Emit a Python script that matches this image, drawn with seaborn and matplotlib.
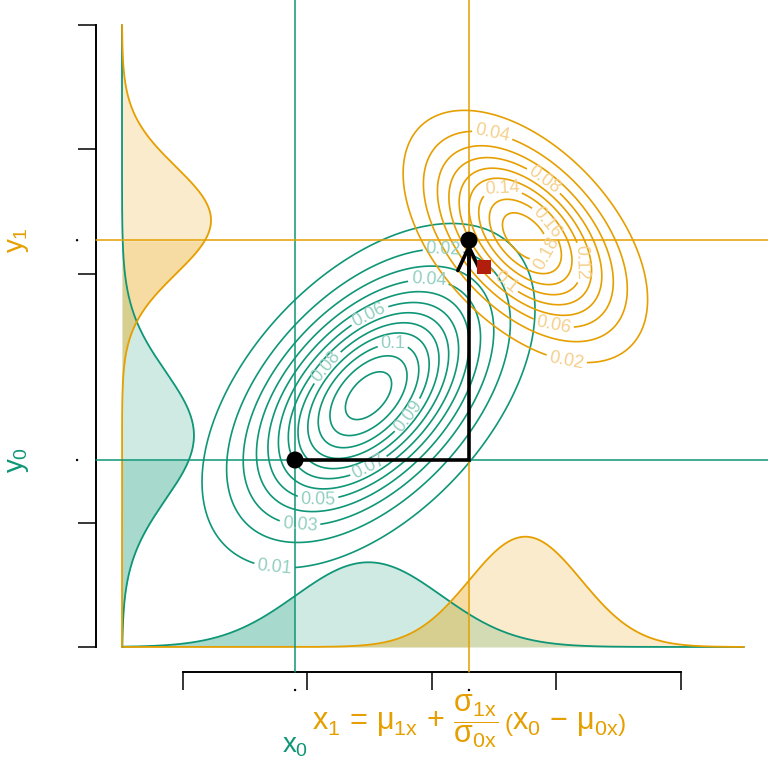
import numpy as np
import matplotlib
matplotlib.use("Agg")
import matplotlib.pyplot as plt
import seaborn as sns

# colours
teal = "#0f9677"
orange = "#e69f00"
teal_lab = "#93cfc1"
orange_lab = "#f4d08c"
red = "#b31d0c"

# joint distributions (mean x, mean y, sd x, sd y, correlation, peak density)
teal_mean = [1.49, 2.02]
teal_sd = [0.594, 0.615]
teal_rho = 0.5
teal_peak = 0.126
orange_mean = [2.75, 3.30]
orange_sd = [0.46, 0.475]
orange_rho = -0.5
orange_peak = 0.195

teal_levels = [0.01, 0.02, 0.03, 0.04, 0.05, 0.06, 0.07, 0.08, 0.09, 0.10, 0.11, 0.12]
orange_levels = [0.02, 0.04, 0.06, 0.08, 0.10, 0.12, 0.14, 0.16, 0.18]

# marginals: bottom (x) and left (y); index 0 = teal, 1 = orange
marg_x_mean = [1.49, 2.75]
marg_x_sd = [0.586, 0.45]
marg_y_mean = [1.70, 3.43]
marg_y_sd = [0.514, 0.43]
marg_y_peak = [0.578, 0.715]

# points
x0, y0 = 0.90, 1.503
x1, y1 = 2.297, 3.27
red_pt = (2.418, 3.055)

x_ticks = [0, 1, 2, 3, 4]
y_ticks = [0, 1, 3, 4, 5]

sns.set_theme(style="white")
plt.rcParams["font.family"] = ["Liberation Sans", "DejaVu Sans"]
plt.rcParams["mathtext.fontset"] = "custom"
plt.rcParams["mathtext.rm"] = "Liberation Sans"
plt.rcParams["mathtext.it"] = "Liberation Sans"
plt.rcParams["mathtext.sf"] = "Liberation Sans"


def bvn(X, Y, mean, sd, rho, peak):
    zx = (X - mean[0]) / sd[0]
    zy = (Y - mean[1]) / sd[1]
    q = (zx ** 2 - 2 * rho * zx * zy + zy ** 2) / (1 - rho ** 2)
    return peak * np.exp(-0.5 * q)


def npdf(v, m, s):
    return np.exp(-0.5 * ((v - m) / s) ** 2) / (s * np.sqrt(2 * np.pi))


fig = plt.figure(figsize=(7.68, 7.68), dpi=100)
ax = fig.add_axes([0, 0, 1, 1])
ax.set_xlim(-1.470, 4.699)
ax.set_ylim(-0.973, 5.201)

base_x = -0.49
xg = np.linspace(base_x, 4.506, 600)
yg = np.linspace(0, 5, 600)
cols = [teal, orange]
cut_x = [x0, x1]
cut_y = [y0, y1]

# bottom marginals
for i in range(2):
    d = npdf(xg, marg_x_mean[i], marg_x_sd[i])
    ax.fill_between(xg, 0, d, color=cols[i], alpha=0.2, lw=0, zorder=1)
    m = xg <= cut_x[i]
    ax.fill_between(xg[m], 0, d[m], color=cols[i], alpha=0.2, lw=0, zorder=1)
    sns.lineplot(x=xg, y=d, color=cols[i], lw=1.3, estimator=None, ax=ax, zorder=2)

# left marginals
for i in range(2):
    d = marg_y_peak[i] * np.exp(-0.5 * ((yg - marg_y_mean[i]) / marg_y_sd[i]) ** 2)
    ax.fill_betweenx(yg, base_x, base_x + d, color=cols[i], alpha=0.2, lw=0, zorder=1)
    m = yg <= cut_y[i]
    ax.fill_betweenx(yg[m], base_x, base_x + d[m], color=cols[i], alpha=0.2, lw=0, zorder=1)
    sns.lineplot(x=base_x + d, y=yg, color=cols[i], lw=1.3, estimator=None,
                 sort=False, orient="y", ax=ax, zorder=2)

# joint contours
gx = np.linspace(-0.5, 4.5, 400)
gy = np.linspace(0, 5.1, 400)
GX, GY = np.meshgrid(gx, gy)
Zt = bvn(GX, GY, teal_mean, teal_sd, teal_rho, teal_peak)
Zo = bvn(GX, GY, orange_mean, orange_sd, orange_rho, orange_peak)

teal_lab_pos = {0.01: (0.739, 0.683), 0.02: (2.088, 3.127), 0.03: (0.94, 1.005),
                0.04: (1.968, 2.870), 0.05: (1.084, 1.238), 0.06: (1.518, 2.629),
                0.07: (1.486, 1.463), 0.08: (1.181, 2.227), 0.09: (1.823, 1.849),
                0.10: (1.687, 2.363)}
orange_lab_pos = {0.02: (3.084, 2.323), 0.04: (2.466, 4.035), 0.06: (2.972, 2.572),
                  0.08: (2.884, 3.730), 0.10: (2.522, 2.846), 0.12: (3.149, 3.087),
                  0.14: (2.562, 3.529), 0.16: (2.860, 3.360), 0.18: (2.880, 3.180)}


def draw_level(Z, lev, col, lab_col, pos):
    cs = ax.contour(GX, GY, Z, levels=[lev], colors=col, linewidths=1.2, zorder=2)
    if pos is not None:
        ax.clabel(cs, manual=[pos], fmt=lambda v: f"{v:g}", fontsize=13,
                  colors=lab_col, inline=True, inline_spacing=3)


for lev in teal_levels:
    draw_level(Zt, lev, teal, teal_lab, teal_lab_pos.get(lev))
for lev in orange_levels:
    draw_level(Zo, lev, orange, orange_lab, orange_lab_pos.get(lev))

# guide lines
ax.plot([x0, x0], [-0.2, 5.201], color=teal, lw=1.1, zorder=3, clip_on=False)
ax.plot([x1, x1], [-0.2, 5.201], color=orange, lw=1.1, zorder=3, clip_on=False)
ax.plot([-0.7, 4.699], [y0, y0], color=teal, lw=1.1, zorder=3, clip_on=False)
ax.plot([-0.7, 4.699], [y1, y1], color=orange, lw=1.1, zorder=3, clip_on=False)

# path x0 -> x1 -> y1
ax.plot([x0, x1, x1], [y0, y0, y1 - 0.05], color="black", lw=2.6,
        solid_joinstyle="miter", zorder=4)
ax.annotate("", xy=(x1, y1 - 0.02), xytext=(x1, y1 - 0.4),
            arrowprops=dict(arrowstyle="->,head_length=0.85,head_width=0.4",
                            mutation_scale=20, lw=2.6, color="black",
                            shrinkA=0, shrinkB=0), zorder=4)
sns.scatterplot(x=[x0, x1], y=[y0, y1], color="black", s=150, edgecolor="none",
                ax=ax, zorder=5)
sns.scatterplot(x=[red_pt[0]], y=[red_pt[1]], color=red, marker="s", s=95,
                edgecolor="none", ax=ax, zorder=5)

# axes
for s in ["top", "right"]:
    ax.spines[s].set_visible(False)
ax.spines["left"].set_position(("data", -0.7))
ax.spines["left"].set_bounds(0, 5)
ax.spines["bottom"].set_position(("data", -0.2))
ax.spines["bottom"].set_bounds(0, 4)
for s in ["left", "bottom"]:
    ax.spines[s].set_color("black")
    ax.spines[s].set_linewidth(1.4)
ax.set_xticks(x_ticks)
ax.set_yticks(y_ticks)
ax.set_xticklabels([])
ax.set_yticklabels([])
ax.tick_params(direction="out", length=13, width=1.1, color="black",
               bottom=True, left=True)

# tiny marks where the tick labels would sit
sns.scatterplot(x=[x0, x1], y=[-0.346, -0.346], color="black", s=3,
                edgecolor="none", ax=ax, clip_on=False)
sns.scatterplot(x=[-0.851, -0.851], y=[y0, y1], color="black", s=3,
                edgecolor="none", ax=ax, clip_on=False)

# labels
ax.text(-1.325, y1, r"$y_1$", color=orange, fontsize=20, rotation=90,
        ha="center", va="center")
ax.text(-1.325, y0, r"$y_0$", color=teal, fontsize=20, rotation=90,
        ha="center", va="center")
ax.text(x0, -0.80, r"$x_0$", color=teal, fontsize=20, ha="center", va="center")
ax.text(x1, -0.60,
        r"$x_1\,=\,\mu_{1x}\,+\,\dfrac{\sigma_{1x}}{\sigma_{0x}}\,\left(x_0\,-\,\mu_{0x}\right)$",
        color=orange, fontsize=22, ha="center", va="center")

fig.savefig("out.png", dpi=100)
